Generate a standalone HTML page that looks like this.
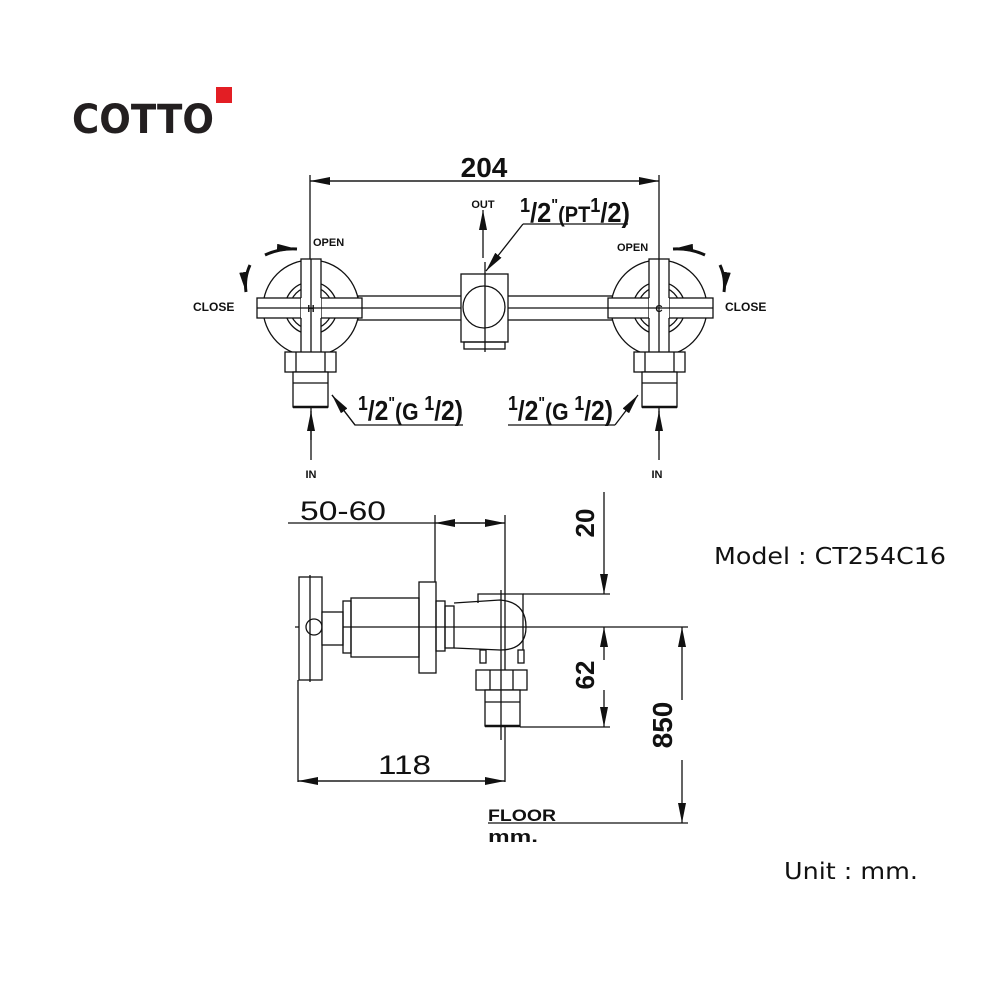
<!DOCTYPE html>
<html><head><meta charset="utf-8"><style>
html,body{margin:0;padding:0;background:#fff}
svg{display:block}
.t{font-family:"Liberation Sans",sans-serif;font-weight:bold;fill:#111}
.m{font-family:"DejaVu Sans","Liberation Sans",sans-serif;fill:#111}
</style></head><body>
<svg width="1000" height="1000" viewBox="0 0 1000 1000" xmlns="http://www.w3.org/2000/svg">
<defs>
<marker id="a" viewBox="0 0 20 8" refX="20" refY="4" markerWidth="20" markerHeight="8" markerUnits="userSpaceOnUse" orient="auto"><path d="M0,0 L20,4 L0,8 Z" fill="#111"/></marker>
</defs>
<!-- logo -->
<text x="72" y="133" font-family="DejaVu Sans, Liberation Sans, sans-serif" font-weight="bold" font-size="40" fill="#231f20" textLength="142" lengthAdjust="spacingAndGlyphs">COTTO</text>
<rect x="216" y="87" width="16" height="16" fill="#e31e24"/>

<g stroke="#111" fill="none" stroke-width="1.3">
<!-- 204 dimension -->
<line x1="310" y1="175" x2="310" y2="262"/>
<line x1="659" y1="175" x2="659" y2="262"/>
<line x1="310" y1="181" x2="659" y2="181" marker-end="url(#a)"/>
<line x1="659" y1="181" x2="310" y2="181" marker-end="url(#a)"/>

<!-- pipe -->
<rect x="358" y="296" width="104" height="24" fill="#fff"/>
<rect x="507" y="296" width="106" height="24" fill="#fff"/>
<line x1="358" y1="308" x2="613" y2="308"/>
<!-- center body -->
<rect x="461" y="274" width="47" height="68" fill="#fff"/>
<rect x="464" y="342" width="41" height="7"/>
<circle cx="484" cy="307" r="21"/>
<line x1="485" y1="262" x2="485" y2="352"/>

<!-- valves -->
<g id="v">
<circle cx="311" cy="308" r="48" fill="#fff"/>
<circle cx="311" cy="308" r="26"/>
<circle cx="311" cy="308" r="21"/>
<rect x="257" y="298" width="105" height="20" fill="#fff"/>
<rect x="301" y="259" width="20" height="96" fill="#fff"/>
<rect x="301" y="298" width="20" height="20" fill="#fff" stroke="none"/>
<line x1="257" y1="308" x2="362" y2="308"/>
<line x1="311" y1="259" x2="311" y2="440"/>
<rect x="285" y="352" width="51" height="20" fill="#fff"/>
<line x1="296" y1="352" x2="296" y2="372"/><line x1="325" y1="352" x2="325" y2="372"/>
<rect x="293" y="372" width="35" height="35" fill="#fff"/>
<line x1="293" y1="383" x2="328" y2="383"/>
<line x1="293" y1="407" x2="328" y2="407" stroke-width="2.5"/>
<line x1="311" y1="460" x2="311" y2="411" marker-end="url(#a)"/>
</g>
<use href="#v" transform="translate(970,0) scale(-1,1)"/>

<!-- leaders -->
<polyline points="463,425 355,425 332,395"/>
<line x1="355" y1="425" x2="332" y2="395" marker-end="url(#a)"/>
<line x1="508" y1="425" x2="615" y2="425"/>
<line x1="615" y1="425" x2="638" y2="395" marker-end="url(#a)"/>
<line x1="523" y1="224" x2="628" y2="224"/>
<line x1="523" y1="224" x2="486" y2="271" marker-end="url(#a)"/>
<line x1="483" y1="258" x2="483" y2="210" marker-end="url(#a)"/>

<!-- rotation arrows -->
<path d="M265,255 Q280,248 297,249" stroke-width="3" marker-end="url(#a)"/>
<path d="M250,265 Q244,278 246,292" stroke-width="3" marker-end="url(#a)"/>
<path d="M705,255 Q690,248 673,249" stroke-width="3" marker-end="url(#a)"/>
<path d="M720,265 Q726,278 724,292" stroke-width="3" marker-end="url(#a)"/>

<!-- side view -->
<line x1="288" y1="523" x2="505" y2="523"/>
<line x1="435" y1="515" x2="435" y2="582"/>
<line x1="505" y1="515" x2="505" y2="782"/>
<line x1="480" y1="523" x2="435" y2="523" marker-end="url(#a)"/>
<line x1="460" y1="523" x2="505" y2="523" marker-end="url(#a)"/>
<line x1="295" y1="627" x2="688" y2="627"/>
<rect x="299" y="577" width="23" height="103" fill="#fff"/>
<line x1="310" y1="575" x2="310" y2="682"/>
<circle cx="314" cy="627" r="8"/>
<rect x="322" y="612" width="21" height="33" fill="#fff"/>
<rect x="343" y="601" width="8" height="52"/>
<rect x="351" y="598" width="68" height="59"/>
<rect x="419" y="582" width="17" height="91"/>
<rect x="436" y="601" width="9" height="50"/>
<rect x="445" y="606" width="9" height="42"/>
<line x1="298" y1="680" x2="298" y2="782"/>
<path d="M478,603 L478,594 L523,594 L523,650"/>
<path d="M454,603 L500,600 Q526,602 526,627 Q526,650 500,650 L454,648"/>
<rect x="480" y="650" width="6" height="13"/><rect x="518" y="650" width="6" height="13"/>
<rect x="476" y="670" width="51" height="20" fill="#fff"/>
<line x1="490" y1="670" x2="490" y2="690"/><line x1="513" y1="670" x2="513" y2="690"/>
<rect x="485" y="690" width="35" height="36" fill="#fff"/>
<line x1="485" y1="702" x2="520" y2="702"/>
<line x1="485" y1="726" x2="520" y2="726" stroke-width="2.5"/>
<line x1="501" y1="590" x2="501" y2="740"/>
<line x1="523" y1="594" x2="610" y2="594"/>
<line x1="520" y1="727" x2="610" y2="727"/>
<line x1="604" y1="492" x2="604" y2="594" marker-end="url(#a)"/>
<line x1="604" y1="660" x2="604" y2="627" marker-end="url(#a)"/>
<line x1="604" y1="690" x2="604" y2="727" marker-end="url(#a)"/>
<line x1="682" y1="700" x2="682" y2="627" marker-end="url(#a)"/>
<line x1="682" y1="760" x2="682" y2="823" marker-end="url(#a)"/>
<line x1="488" y1="823" x2="688" y2="823"/>
<line x1="298" y1="781" x2="505" y2="781"/>
<line x1="350" y1="781" x2="298" y2="781" marker-end="url(#a)"/>
<line x1="450" y1="781" x2="505" y2="781" marker-end="url(#a)"/>
</g>

<!-- labels -->
<text class="t" x="484" y="177" font-size="28" text-anchor="middle">204</text>
<text class="t" x="483" y="208" font-size="11" text-anchor="middle">OUT</text>
<text class="t" x="520" y="222" font-size="28" textLength="110" lengthAdjust="spacingAndGlyphs"><tspan font-size="20" dy="-10">1</tspan><tspan dy="10">/2</tspan><tspan font-size="16" dy="-12">"</tspan><tspan font-size="22" dy="12">(PT</tspan><tspan font-size="20" dy="-10">1</tspan><tspan dy="10">/2)</tspan></text>
<text class="t" x="313" y="246" font-size="11">OPEN</text>
<text class="t" x="617" y="251" font-size="11">OPEN</text>
<text class="t" x="193" y="311" font-size="12">CLOSE</text>
<text class="t" x="725" y="311" font-size="12">CLOSE</text>
<text class="t" x="311" y="312" font-size="10" text-anchor="middle">H</text>
<text class="t" x="659" y="312" font-size="10" text-anchor="middle">C</text>
<text class="t" x="358" y="420" font-size="28" textLength="105" lengthAdjust="spacingAndGlyphs"><tspan font-size="20" dy="-10">1</tspan><tspan dy="10">/2</tspan><tspan font-size="16" dy="-12">"</tspan><tspan font-size="24" dy="12">(G </tspan><tspan font-size="20" dy="-10">1</tspan><tspan dy="10">/2)</tspan></text>
<text class="t" x="508" y="420" font-size="28" textLength="105" lengthAdjust="spacingAndGlyphs"><tspan font-size="20" dy="-10">1</tspan><tspan dy="10">/2</tspan><tspan font-size="16" dy="-12">"</tspan><tspan font-size="24" dy="12">(G </tspan><tspan font-size="20" dy="-10">1</tspan><tspan dy="10">/2)</tspan></text>
<text class="t" x="311" y="478" font-size="11" text-anchor="middle">IN</text>
<text class="t" x="657" y="478" font-size="11" text-anchor="middle">IN</text>
<text class="t" x="300" y="520" font-size="27" textLength="86" lengthAdjust="spacingAndGlyphs" style="font-weight:normal">50-60</text>
<text class="t" x="378" y="774" font-size="27" textLength="53" lengthAdjust="spacingAndGlyphs" style="font-weight:normal">118</text>
<text class="t" transform="translate(594,523) rotate(-90)" font-size="26" text-anchor="middle">20</text>
<text class="t" transform="translate(594,675) rotate(-90)" font-size="26" text-anchor="middle">62</text>
<text class="t" transform="translate(672,725) rotate(-90)" font-size="28" text-anchor="middle">850</text>
<text class="t" x="488" y="821" font-size="17" textLength="68" lengthAdjust="spacingAndGlyphs">FLOOR</text>
<text class="t" x="488" y="842" font-size="17" textLength="50" lengthAdjust="spacingAndGlyphs">mm.</text>
<text class="m" x="714" y="564" font-size="23" textLength="232" lengthAdjust="spacingAndGlyphs">Model : CT254C16</text>
<text class="m" x="784" y="879" font-size="23" textLength="134" lengthAdjust="spacingAndGlyphs">Unit : mm.</text>
</svg>
</body></html>
